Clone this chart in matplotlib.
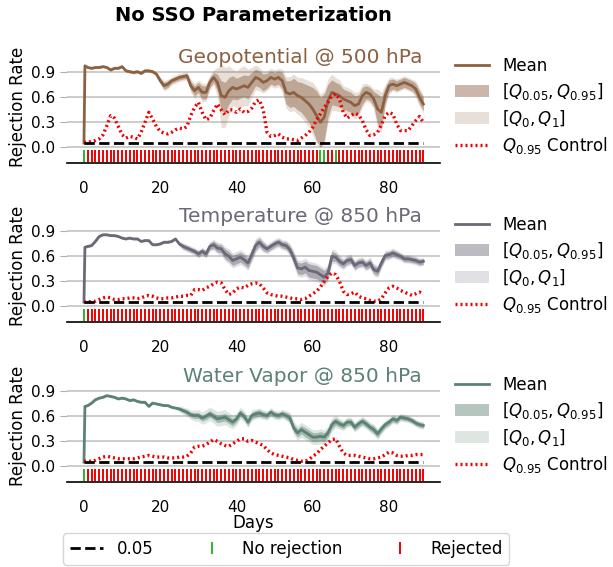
import numpy as np
import matplotlib
matplotlib.use('Agg')
from matplotlib import pyplot as plt
from matplotlib.lines import Line2D
from matplotlib.patches import Patch

# daily axis for the control quantile and rejection flags
days = np.arange(90)
# the mean/quantile series has one extra early sample right after initialisation
mean_days = np.concatenate([[0, 0.25], np.arange(1, 90)])
alpha_level = 0.05

# --- Geopotential @ 500 hPa
geo_mean = [0.05, 0.98,
            0.96, 0.95, 0.96, 0.96, 0.97, 0.96, 0.93, 0.95, 0.95, 0.97,
            0.92, 0.91, 0.90, 0.91, 0.89, 0.92, 0.92, 0.91, 0.88, 0.80,
            0.74, 0.76, 0.80, 0.82, 0.84, 0.85, 0.86, 0.74, 0.68, 0.72,
            0.66, 0.66, 0.78, 0.84, 0.78, 0.62, 0.60, 0.68, 0.72, 0.70,
            0.72, 0.74, 0.72, 0.78, 0.84, 0.82, 0.78, 0.80, 0.84, 0.82,
            0.84, 0.80, 0.66, 0.64, 0.66, 0.62, 0.60, 0.56, 0.52, 0.46,
            0.38, 0.30, 0.36, 0.56, 0.66, 0.64, 0.62, 0.58, 0.56, 0.54,
            0.50, 0.52, 0.62, 0.66, 0.64, 0.58, 0.46, 0.42, 0.62, 0.74,
            0.76, 0.74, 0.76, 0.78, 0.76, 0.74, 0.70, 0.60, 0.52]
geo_w90 = [0, 0.01,
           0.01, 0.01, 0.01, 0.01, 0.01, 0.01, 0.01, 0.01, 0.01, 0.01,
           0.015, 0.015, 0.015, 0.015, 0.015, 0.015, 0.015, 0.015, 0.015,
           0.03, 0.04, 0.04, 0.03, 0.03, 0.03, 0.03, 0.03,
           0.05, 0.06, 0.06, 0.08, 0.08, 0.06, 0.06, 0.10,
           0.18, 0.18, 0.16, 0.14, 0.13, 0.13, 0.13, 0.14,
           0.12, 0.10, 0.10, 0.10, 0.09, 0.08, 0.08, 0.08, 0.10,
           0.14, 0.16, 0.17, 0.17, 0.18, 0.20, 0.22,
           0.26, 0.30, 0.30, 0.28,
           0.20, 0.15, 0.14, 0.14,
           0.12, 0.12, 0.12, 0.12, 0.11, 0.10,
           0.08, 0.08, 0.09,
           0.18, 0.18,
           0.10, 0.07, 0.06, 0.06, 0.06, 0.06, 0.06, 0.06,
           0.07, 0.08, 0.08]
geo_w100 = [0, 0.015,
            0.015, 0.015, 0.015, 0.015, 0.015, 0.015, 0.015, 0.015, 0.015, 0.015,
            0.02, 0.02, 0.02, 0.02, 0.02, 0.02, 0.02, 0.02, 0.02,
            0.05, 0.06, 0.06, 0.05, 0.05, 0.05, 0.05, 0.05,
            0.08, 0.09, 0.09, 0.11, 0.11, 0.09, 0.09, 0.18,
            0.38, 0.36, 0.30, 0.22, 0.22, 0.24, 0.24, 0.22,
            0.18, 0.15, 0.14, 0.13, 0.12, 0.11, 0.11, 0.11, 0.14,
            0.19, 0.21, 0.22, 0.22, 0.24, 0.26, 0.28,
            0.32, 0.34, 0.34, 0.32,
            0.26, 0.22, 0.20, 0.19,
            0.16, 0.16, 0.16, 0.16, 0.15, 0.14,
            0.11, 0.11, 0.12,
            0.24, 0.24,
            0.14, 0.10, 0.08, 0.08, 0.08, 0.08, 0.08, 0.08,
            0.10, 0.11, 0.11]
geo_control = [0.06, 0.06, 0.07, 0.08, 0.10, 0.15, 0.26, 0.38, 0.35, 0.25,
               0.15, 0.11, 0.13, 0.12, 0.10, 0.18, 0.30, 0.42, 0.34, 0.25,
               0.19, 0.17, 0.16, 0.18, 0.21, 0.23, 0.22, 0.25, 0.38, 0.48,
               0.54, 0.42, 0.33, 0.35, 0.44, 0.52, 0.45, 0.39, 0.45, 0.45,
               0.42, 0.46, 0.42, 0.43, 0.47, 0.55, 0.57, 0.45, 0.18, 0.13,
               0.14, 0.16, 0.12, 0.10, 0.10, 0.09, 0.08, 0.11, 0.14, 0.18,
               0.24, 0.33, 0.40, 0.48, 0.54, 0.62, 0.64, 0.58, 0.42, 0.35,
               0.38, 0.41, 0.39, 0.32, 0.21, 0.14, 0.15, 0.18, 0.27, 0.38,
               0.42, 0.40, 0.28, 0.20, 0.20, 0.20, 0.26, 0.32, 0.37, 0.30]
geo_no_reject = [0, 62, 63, 66]

# --- Temperature @ 850 hPa
temp_mean = [0.05, 0.71,
             0.72, 0.73, 0.78, 0.84, 0.86, 0.86, 0.85, 0.85, 0.84, 0.82,
             0.81, 0.82, 0.81, 0.81, 0.78, 0.79, 0.79, 0.74, 0.74, 0.75,
             0.77, 0.77, 0.78, 0.81, 0.75, 0.72, 0.70, 0.68, 0.66, 0.63,
             0.66, 0.63, 0.72, 0.74, 0.70, 0.69, 0.63, 0.60, 0.55, 0.57,
             0.59, 0.56, 0.52, 0.62, 0.73, 0.77, 0.72, 0.69, 0.72, 0.75,
             0.77, 0.74, 0.73, 0.68, 0.58, 0.46, 0.45, 0.47, 0.43, 0.42,
             0.41, 0.38, 0.35, 0.40, 0.60, 0.59, 0.54, 0.51, 0.55, 0.56,
             0.49, 0.52, 0.53, 0.49, 0.52, 0.44, 0.42, 0.52, 0.61, 0.62,
             0.64, 0.62, 0.60, 0.57, 0.57, 0.56, 0.55, 0.53, 0.54]
temp_w90 = [0, 0.01,
            0.01, 0.01, 0.01, 0.01, 0.01, 0.01, 0.01, 0.01, 0.01, 0.01, 0.01, 0.01,
            0.01, 0.01, 0.01, 0.01, 0.01, 0.01, 0.01, 0.01, 0.01, 0.01, 0.01, 0.01,
            0.02, 0.03, 0.03, 0.03, 0.03, 0.035, 0.035, 0.035,
            0.04, 0.045, 0.05, 0.05, 0.06, 0.06, 0.06, 0.06, 0.06, 0.06, 0.06,
            0.06, 0.06, 0.05, 0.05, 0.04, 0.04, 0.04, 0.04, 0.04, 0.045, 0.05, 0.06,
            0.07, 0.07, 0.07, 0.08, 0.08, 0.08, 0.08, 0.08, 0.07,
            0.06, 0.05, 0.05, 0.045, 0.045, 0.045, 0.045, 0.045, 0.045, 0.045,
            0.05, 0.05, 0.05, 0.045, 0.04, 0.04, 0.04, 0.04, 0.035, 0.035,
            0.035, 0.035, 0.035, 0.035, 0.035]
temp_w100 = [0, 0.015,
             0.015, 0.015, 0.015, 0.015, 0.015, 0.015, 0.015, 0.015, 0.015, 0.015, 0.015, 0.015,
             0.015, 0.015, 0.015, 0.015, 0.015, 0.015, 0.015, 0.015, 0.015, 0.015, 0.015, 0.015,
             0.03, 0.045, 0.045, 0.045, 0.045, 0.05, 0.05, 0.05,
             0.06, 0.065, 0.07, 0.075, 0.085, 0.09, 0.09, 0.09, 0.09, 0.09, 0.09,
             0.09, 0.085, 0.075, 0.07, 0.06, 0.06, 0.06, 0.06, 0.06, 0.065, 0.075, 0.09,
             0.10, 0.10, 0.11, 0.11, 0.11, 0.11, 0.11, 0.11, 0.10,
             0.09, 0.08, 0.075, 0.07, 0.07, 0.065, 0.065, 0.065, 0.065, 0.065,
             0.07, 0.075, 0.075, 0.065, 0.06, 0.06, 0.06, 0.055, 0.05, 0.05,
             0.05, 0.05, 0.05, 0.05, 0.05]
temp_control = [0.05, 0.05, 0.06, 0.06, 0.08, 0.10, 0.11, 0.10, 0.08, 0.08,
                0.09, 0.09, 0.10, 0.10, 0.09, 0.10, 0.12, 0.13, 0.12, 0.10,
                0.09, 0.09, 0.10, 0.10, 0.11, 0.12, 0.12, 0.13, 0.13, 0.20,
                0.20, 0.19, 0.22, 0.24, 0.27, 0.29, 0.28, 0.20, 0.14, 0.16,
                0.21, 0.23, 0.22, 0.25, 0.27, 0.28, 0.27, 0.22, 0.16, 0.14,
                0.13, 0.12, 0.12, 0.11, 0.10, 0.09, 0.09, 0.08, 0.09, 0.12,
                0.15, 0.18, 0.23, 0.30, 0.36, 0.40, 0.38, 0.30, 0.18, 0.14,
                0.15, 0.17, 0.12, 0.10, 0.09, 0.07, 0.06, 0.06, 0.09, 0.16,
                0.22, 0.24, 0.22, 0.19, 0.17, 0.15, 0.13, 0.15, 0.17, 0.14]
temp_no_reject = [0]

# --- Water Vapor @ 850 hPa
vap_mean = [0.05, 0.72,
            0.73, 0.76, 0.80, 0.82, 0.83, 0.85, 0.84, 0.83, 0.81, 0.82,
            0.81, 0.79, 0.80, 0.78, 0.77, 0.77, 0.72, 0.76, 0.75, 0.74,
            0.73, 0.73, 0.71, 0.70, 0.69, 0.67, 0.65, 0.62, 0.61, 0.61,
            0.58, 0.60, 0.63, 0.60, 0.57, 0.58, 0.59, 0.56, 0.53, 0.57,
            0.64, 0.60, 0.53, 0.61, 0.63, 0.64, 0.62, 0.61, 0.65, 0.62,
            0.61, 0.63, 0.61, 0.58, 0.46, 0.40, 0.44, 0.41, 0.38, 0.35,
            0.35, 0.36, 0.35, 0.40, 0.50, 0.54, 0.51, 0.49, 0.53, 0.53,
            0.47, 0.51, 0.54, 0.51, 0.47, 0.44, 0.39, 0.45, 0.50, 0.53,
            0.57, 0.55, 0.59, 0.58, 0.57, 0.55, 0.52, 0.50, 0.49]
vap_w90 = [0, 0.01,
           0.01, 0.01, 0.01, 0.01, 0.01, 0.01, 0.01, 0.01, 0.01, 0.01, 0.01, 0.01,
           0.01, 0.01, 0.01, 0.01, 0.01, 0.01, 0.01, 0.01, 0.01, 0.01, 0.01, 0.01,
           0.02, 0.025, 0.03, 0.03, 0.035, 0.035, 0.035, 0.04,
           0.04, 0.04, 0.045, 0.045, 0.045, 0.045, 0.045, 0.04, 0.04, 0.04, 0.04,
           0.04, 0.04, 0.04, 0.035, 0.035, 0.035, 0.035, 0.035, 0.035, 0.04, 0.045, 0.05,
           0.05, 0.05, 0.055, 0.055, 0.055, 0.055, 0.055, 0.055, 0.05,
           0.05, 0.045, 0.04, 0.04, 0.04, 0.04, 0.04, 0.04, 0.04, 0.04,
           0.04, 0.045, 0.045, 0.04, 0.035, 0.035, 0.035, 0.035, 0.03, 0.03,
           0.03, 0.03, 0.03, 0.03, 0.03]
vap_w100 = [0, 0.015,
            0.015, 0.015, 0.015, 0.015, 0.015, 0.015, 0.015, 0.015, 0.015, 0.015, 0.015, 0.015,
            0.015, 0.015, 0.015, 0.015, 0.015, 0.015, 0.015, 0.015, 0.015, 0.015, 0.015, 0.015,
            0.035, 0.045, 0.05, 0.055, 0.065, 0.07, 0.075, 0.08,
            0.08, 0.085, 0.09, 0.09, 0.09, 0.085, 0.08, 0.075, 0.07, 0.07, 0.065,
            0.065, 0.06, 0.06, 0.055, 0.055, 0.055, 0.055, 0.055, 0.055, 0.06, 0.07, 0.08,
            0.085, 0.09, 0.09, 0.09, 0.09, 0.09, 0.09, 0.09, 0.085,
            0.085, 0.075, 0.065, 0.06, 0.06, 0.06, 0.06, 0.06, 0.06, 0.06,
            0.06, 0.065, 0.065, 0.06, 0.055, 0.055, 0.055, 0.05, 0.045, 0.045,
            0.045, 0.045, 0.045, 0.045, 0.045]
vap_control = [0.06, 0.06, 0.06, 0.07, 0.09, 0.11, 0.12, 0.11, 0.10, 0.09,
               0.09, 0.09, 0.09, 0.09, 0.10, 0.11, 0.12, 0.13, 0.12, 0.11,
               0.11, 0.11, 0.10, 0.10, 0.10, 0.11, 0.11, 0.12, 0.16, 0.23,
               0.24, 0.24, 0.26, 0.29, 0.32, 0.30, 0.27, 0.25, 0.24, 0.27,
               0.30, 0.33, 0.33, 0.30, 0.31, 0.29, 0.27, 0.25, 0.20, 0.16,
               0.14, 0.13, 0.12, 0.11, 0.10, 0.08, 0.07, 0.06, 0.06, 0.08,
               0.12, 0.15, 0.20, 0.24, 0.28, 0.32, 0.33, 0.24, 0.16, 0.13,
               0.13, 0.13, 0.12, 0.11, 0.10, 0.09, 0.09, 0.10, 0.11, 0.14,
               0.17, 0.16, 0.13, 0.12, 0.12, 0.13, 0.13, 0.14, 0.14, 0.14]
vap_no_reject = [0]

panels = [
    ('Geopotential @ 500 hPa', '#8c6142', geo_mean, geo_w90, geo_w100, geo_control, geo_no_reject),
    ('Temperature @ 850 hPa', '#6c6878', temp_mean, temp_w90, temp_w100, temp_control, temp_no_reject),
    ('Water Vapor @ 850 hPa', '#5b8272', vap_mean, vap_w90, vap_w100, vap_control, vap_no_reject),
]

green = '#2ab52a'
red = '#ee0000'
dots = (0, (0.6, 0.9))

fig = plt.figure(figsize=(6.13, 5.67), dpi=100)
bottoms = [0.7125, 0.4321, 0.1499]

for i, (name, color, mean, w90, w100, control, no_rej) in enumerate(panels):
    ax = fig.add_axes([0.1093, bottoms[i], 0.609, 0.1993])
    mean = np.array(mean)
    w90 = np.array(w90)
    w100 = np.array(w100)

    ax.fill_between(mean_days, np.clip(mean - w100, 0, 1), np.clip(mean + w100, 0, 1),
                    color=color, alpha=0.2, lw=0, zorder=2)
    ax.fill_between(mean_days, np.clip(mean - w90, 0, 1), np.clip(mean + w90, 0, 1),
                    color=color, alpha=0.45, lw=0, zorder=2)
    ax.plot(mean_days, mean, color=color, lw=2, zorder=3)
    ax.plot(days, control, color=red, lw=2.4, linestyle=dots, zorder=4)
    ax.hlines(alpha_level, days[0], days[-1], color='k', lw=2, linestyles='--', zorder=5)

    accepted = np.isin(days, no_rej)
    ax.plot(days[~accepted], np.full((~accepted).sum(), -0.11), '|', color=red, ms=9, mew=1.4)
    ax.plot(days[accepted], np.full(accepted.sum(), -0.11), '|', color=green, ms=9, mew=1.4)

    ax.set_ylim(-0.19, 1.17)
    ax.set_yticks([0, 0.3, 0.6, 0.9])
    ax.set_yticklabels(['0.0', '0.3', '0.6', '0.9'])
    ax.set_xticks([0, 20, 40, 60, 80])
    ax.grid(axis='y', color='#c4c4c4', lw=1.2)
    ax.set_axisbelow(True)
    for s in ['top', 'right', 'left']:
        ax.spines[s].set_visible(False)
    ax.spines['bottom'].set_linewidth(1.2)
    ax.tick_params(axis='y', colors='#b0b0b0', length=5, labelsize=11, labelcolor='k')
    ax.tick_params(axis='x', length=0, pad=13, labelsize=11)
    ax.set_ylabel('Rejection Rate', fontsize=12, labelpad=3)

    ax.text(0.951, 0.885, name, transform=ax.transAxes, ha='right', va='baseline',
            fontsize=14.5, color=color)

    handles = [Line2D([], [], color=color, lw=2),
               Patch(facecolor=color, alpha=0.45, lw=0),
               Patch(facecolor=color, alpha=0.2, lw=0),
               Line2D([], [], color=red, lw=2.4, linestyle=dots)]
    labels = ['Mean', r'$[Q_{0.05}, Q_{0.95}]$', r'$[Q_0, Q_1]$', r'$Q_{0.95}$ Control']
    ax.legend(handles, labels, loc='center left', bbox_to_anchor=(1.0, 0.5),
              frameon=False, fontsize=12, labelspacing=0.35)

    if i == 2:
        ax.set_xlabel('Days', fontsize=12, labelpad=-1)

fig.text(0.4138, 0.972, 'No SSO Parameterization', ha='center', va='center',
         fontsize=14, fontweight='bold')

bottom_handles = [Line2D([], [], color='k', lw=2, linestyle='--'),
                  Line2D([], [], color=green, marker='|', ls='none', ms=9, mew=1.4),
                  Line2D([], [], color=red, marker='|', ls='none', ms=9, mew=1.4)]
fig.legend(bottom_handles, ['0.05', 'No rejection', 'Rejected'], loc='center',
           bbox_to_anchor=(0.467, 0.032), ncol=3, fontsize=12, columnspacing=2.5)

plt.savefig('out.png', dpi=100)
